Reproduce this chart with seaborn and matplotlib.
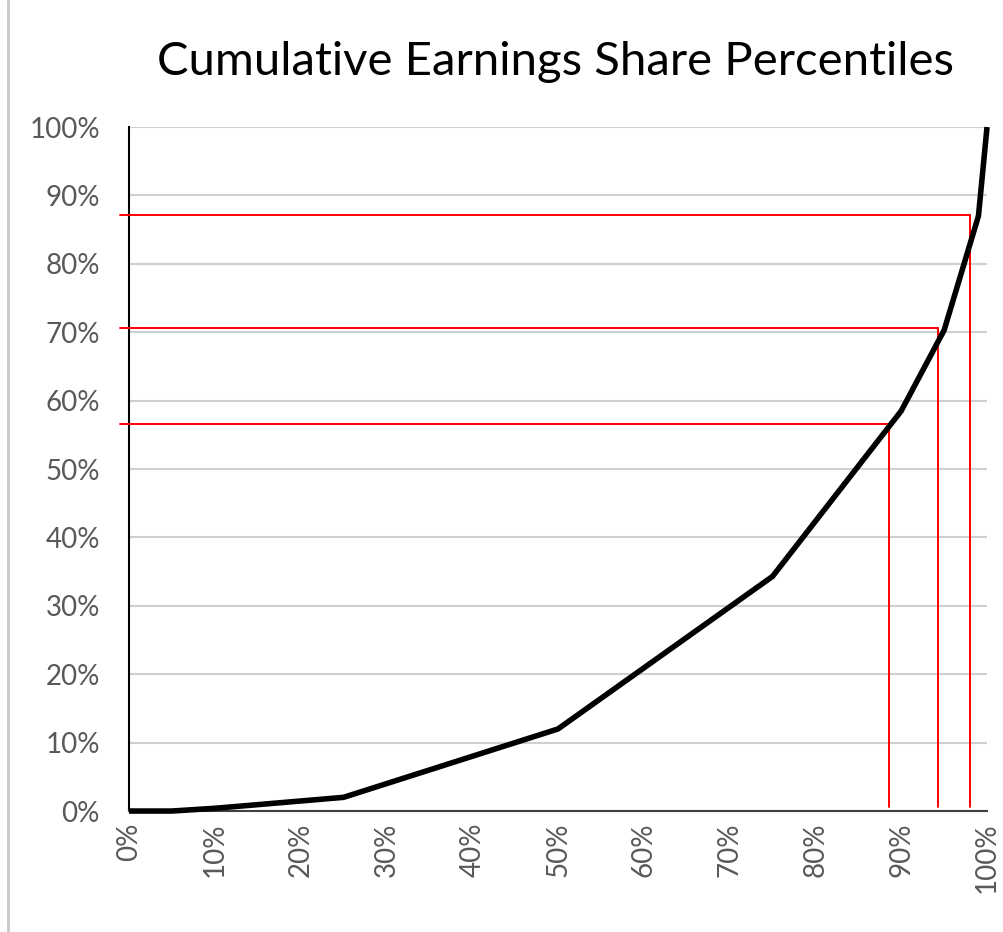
import matplotlib
matplotlib.use("Agg")
import matplotlib.pyplot as plt
from matplotlib.lines import Line2D
from matplotlib.ticker import PercentFormatter, MultipleLocator
import seaborn as sns
import pandas as pd

# percentile of earners (x) vs cumulative share of earnings (y), in %
pct_earners = [0, 5, 10, 25, 50, 75, 90, 95, 99, 100]
cum_share = [0, 0, 0.4, 2.0, 12.0, 34.3, 58.5, 70.3, 87.0, 100]

# red guide lines: where each horizontal level meets the curve
guide_x = [88.6, 94.3, 98.0]
guide_y = [56.6, 70.6, 87.1]

df = pd.DataFrame({"x": pct_earners, "y": cum_share})

sns.set_style("white")
plt.rcParams["font.family"] = ["Lato", "DejaVu Sans"]

fig = plt.figure(figsize=(10.04, 9.32), dpi=100)
ax = fig.add_axes([0.1285, 0.1298, 0.8546, 0.7339])

ax.set_ylim(0, 100)
ax.set_xlim(0, 100)
ax.yaxis.set_major_locator(MultipleLocator(10))
ax.xaxis.set_major_locator(MultipleLocator(10))
ax.yaxis.set_major_formatter(PercentFormatter(decimals=0))
ax.xaxis.set_major_formatter(PercentFormatter(decimals=0))
ax.grid(axis="y", color="#d0d0d0", linewidth=1.5)
ax.set_axisbelow(True)

for gx, gy in zip(guide_x, guide_y):
    ax.plot([-1.0, gx], [gy, gy], color="#ff0000", lw=1.4, clip_on=False, zorder=3)
    ax.plot([gx, gx], [gy, 0.6], color="#ff0000", lw=1.4, clip_on=False, zorder=3)

sns.lineplot(data=df, x="x", y="y", color="black", linewidth=4, ax=ax, zorder=4)
for line in ax.lines[-1:]:
    line.set_clip_on(False)
    line.set_solid_capstyle("butt")

for s in ["top", "right"]:
    ax.spines[s].set_visible(False)
ax.spines["left"].set_color("black")
ax.spines["left"].set_linewidth(1.5)
ax.spines["bottom"].set_color("#404040")
ax.spines["bottom"].set_linewidth(1.5)

ax.set_xlabel("")
ax.set_ylabel("")
ax.tick_params(axis="both", length=0, labelsize=20, labelcolor="#595959")
ax.tick_params(axis="y", pad=21)
ax.tick_params(axis="x", pad=8, labelrotation=90)

fig.text(0.553, 0.934, "Cumulative Earnings Share Percentiles", ha="center",
         va="center", fontsize=34, color="black")

fig.add_artist(Line2D([0.008, 0.008], [0, 1], color="#c8c8c8", lw=2,
                      transform=fig.transFigure))

fig.savefig("out.png", dpi=100)
